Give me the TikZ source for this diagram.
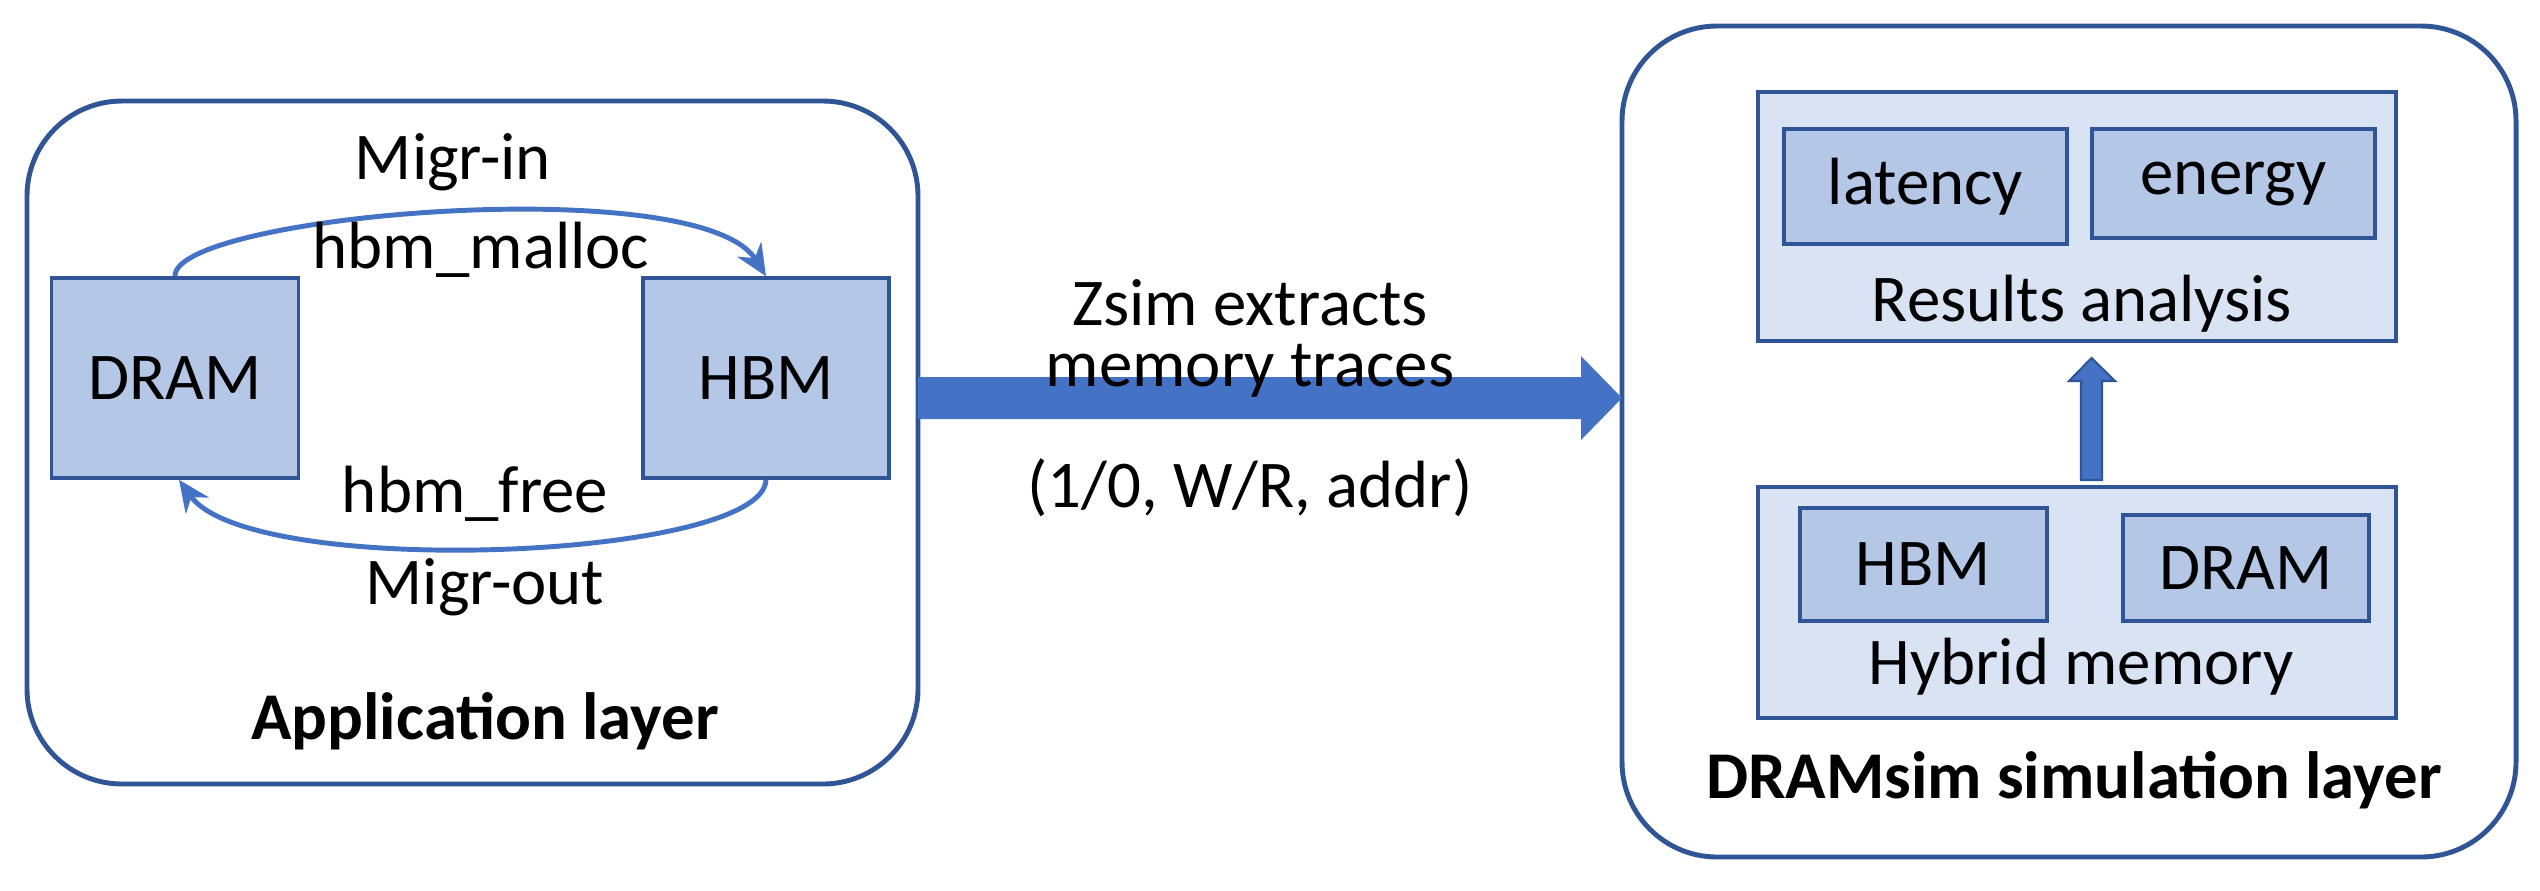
\documentclass[tikz,border=0pt]{standalone}
\usepackage{fontspec}
\setmainfont{Carlito}
\usetikzlibrary{arrows.meta,shapes.arrows}
\definecolor{bfill}{HTML}{B4C7E7}
\definecolor{bdraw}{HTML}{2F5597}
\definecolor{lfill}{HTML}{DAE3F3}
\definecolor{afill}{HTML}{4472C4}
\begin{document}
\begin{tikzpicture}[x=0.01cm,y=-0.01cm,
  txt/.style={font=\fontsize{19}{22}\selectfont,inner sep=0pt},
  outer/.style={draw=bdraw,line width=1.4pt,rounded corners=0.95cm},
  box/.style={draw=bdraw,fill=bfill,line width=1pt},
  panel/.style={draw=bdraw,fill=lfill,line width=1pt},
  curv/.style={draw=afill,line width=1.4pt,-{Stealth[length=9pt,width=8pt]}}]
\useasboundingbox (0,0) rectangle (2540,890);
% left
\draw[outer] (27,101) rectangle (918,784);
\node[box,minimum width=247*0.01cm,minimum height=200*0.01cm,txt] (dram) at (175,378) {DRAM};
\node[box,minimum width=246*0.01cm,minimum height=200*0.01cm,txt] (hbm) at (766,378) {HBM};
\draw[curv] (dram.north) .. controls (173,215) and (700,170) .. (hbm.north);
\draw[curv] (hbm.south) .. controls (763,560) and (250,580) .. ([xshift=4*0.01cm]dram.south);
\node[txt] (migin) at (453,162) {Migr-in};
\node[txt] (malloc) at (481,250) {hbm\_malloc};
\node[txt] (free) at (475,494) {hbm\_free};
\node[txt] (migout) at (485,587) {Migr-out};
\node[txt,font=\fontsize{19}{22}\selectfont\bfseries] (app) at (485,721) {Application layer};
% right
\draw[outer] (1622,26) rectangle (2516,857);
\node[panel,minimum width=638*0.01cm,minimum height=249*0.01cm] (res) at (2077,216.5) {};
\node[box,minimum width=283*0.01cm,minimum height=115*0.01cm,txt] (lat) at (1925.5,186.5) {latency};
\node[box,minimum width=283*0.01cm,minimum height=109*0.01cm,txt] (en) at (2233.5,183.5) {energy};
\node[txt] (resl) at (2082,304) {Results analysis};
\node[panel,minimum width=638*0.01cm,minimum height=231*0.01cm] (hyb) at (2077,602.5) {};
\node[box,minimum width=247*0.01cm,minimum height=113*0.01cm,txt] (h2) at (1923.5,564.5) {HBM};
\node[box,minimum width=246*0.01cm,minimum height=106*0.01cm,txt] (d2) at (2246,568) {DRAM};
\node[txt] (hybl) at (2081,667) {Hybrid memory};
\node[txt,font=\fontsize{19}{22}\selectfont\bfseries] (sim) at (2074,780) {DRAMsim simulation layer};
% small up arrow
\coordinate (ua) at (2091.5,480);
\coordinate (ub) at (2091.5,358);
\fill[afill,draw=bdraw,line width=0.6pt] (2081,480) -- (2081,381) -- (2069,381) -- (2091.5,358) -- (2115,381) -- (2102,381) -- (2102,480) -- cycle;
% big arrow
\fill[afill] (918,377) -- (1581,377) -- (1581,356) -- (1622,398) -- (1581,440) -- (1581,419) -- (918,419) -- cycle;
\node[txt] (z1) at (1250,303) {Zsim extracts};
\node[txt] (z2) at (1250,371) {memory traces};
\node[txt] (z3) at (1250,488) {(1/0, W/R, addr)};
\end{tikzpicture}
\end{document}
